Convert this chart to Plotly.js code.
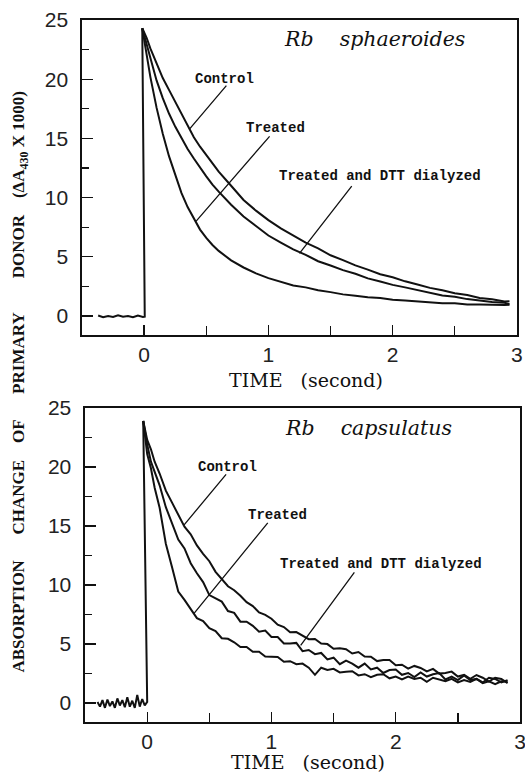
<!DOCTYPE html>
<html>
<head>
<meta charset="utf-8">
<script src="https://cdn.plot.ly/plotly-3.0.1.min.js"></script>
<style>html,body{margin:0;padding:0;background:#fff;}#chart{width:525px;height:774px;}</style>
</head>
<body>
<div id="chart"></div>
<script>
// ---------- Top panel: Rb sphaeroides ----------
const sphBaseT = [-0.37,-0.33,-0.29,-0.25,-0.21,-0.17,-0.13,-0.09,-0.05,-0.01,0.005];
const sphBaseV = [0.05,-0.1,0.0,-0.08,0.06,-0.05,0.0,-0.1,0.05,-0.08,-0.05];
const sphPeakT = -0.015;
const sphPeakV = 24.3;
const sphT = [0.02,0.05,0.1,0.15,0.2,0.25,0.3,0.35,0.4,0.45,0.5,0.55,0.6,0.7,0.8,0.9,1.0,1.1,1.2,1.3,1.4,1.5,1.6,1.7,1.8,1.9,2.0,2.1,2.2,2.3,2.4,2.5,2.6,2.7,2.8,2.9,2.94];
const sphControl = [23.5,22.6,21.3,20.1,19.1,18.1,17.0,16.0,15.1,14.3,13.6,12.9,12.2,11.0,9.8,8.9,8.1,7.4,6.8,6.2,5.72,5.13,4.72,4.28,3.92,3.53,3.27,2.93,2.67,2.38,2.17,1.93,1.77,1.52,1.42,1.22,1.25];
const sphDTT = [23.0,21.8,19.9,18.4,17.1,16.0,15.0,14.1,13.3,12.5,11.8,11.1,10.5,9.4,8.4,7.6,6.8,6.2,5.63,5.17,4.63,4.27,3.88,3.57,3.18,2.92,2.63,2.42,2.18,1.97,1.73,1.62,1.43,1.32,1.18,1.12,1.0];
const sphTreated = [22.0,20.2,17.6,15.4,13.5,11.9,10.4,9.2,8.2,7.3,6.6,6.0,5.5,4.7,4.1,3.6,3.2,2.92,2.58,2.42,2.18,2.02,1.83,1.72,1.58,1.52,1.38,1.32,1.23,1.17,1.08,1.07,0.98,0.97,0.92,0.93,0.95];

// ---------- Bottom panel: Rb capsulatus ----------
const capBaseT = [-0.40,-0.38,-0.36,-0.34,-0.32,-0.30,-0.28,-0.26,-0.24,-0.22,-0.20,-0.18,-0.16,-0.14,-0.12,-0.10,-0.08,-0.06,-0.04,-0.02,0.0];
const capBaseV = [0.1,-0.3,0.25,-0.4,0.3,-0.25,0.15,-0.4,0.4,-0.2,0.25,-0.35,0.5,-0.3,0.2,-0.4,0.7,-0.3,0.35,-0.2,0.1];
const capPeakT = -0.032;
const capPeakV = 23.9;
const capT = [0.0,0.03,0.06,0.1,0.15,0.2,0.25,0.3,0.35,0.4,0.45,0.5,0.55,0.6,0.65,0.7,0.75,0.8,0.85,0.9,0.95,1.0,1.05,1.1,1.15,1.2,1.25,1.3,1.35,1.4,1.45,1.5,1.55,1.6,1.65,1.7,1.75,1.8,1.85,1.9,1.95,2.0,2.05,2.1,2.15,2.2,2.25,2.3,2.35,2.4,2.45,2.5,2.55,2.6,2.65,2.7,2.75,2.8,2.85,2.9];
const capControl = [22.3,21.5,20.45,19.45,18.0,16.98,15.9,14.94,14.3,13.36,12.65,12.02,11.12,10.53,9.9,9.56,9.1,8.55,8.22,7.68,7.48,7.15,6.64,6.44,6.0,6.02,5.7,5.42,5.44,5.05,5.0,4.6,4.65,4.57,4.2,4.33,3.95,3.93,3.56,3.65,3.65,3.2,3.25,2.92,3.15,2.98,2.68,2.9,2.5,2.55,2.67,2.25,2.4,2.05,2.38,2.15,1.83,2.15,2.05,1.7];
const capDTT = [21.9,20.45,19.65,18.45,16.6,15.25,13.85,13.1,11.85,11.0,10.25,9.15,8.85,8.6,7.8,7.65,6.9,6.9,6.55,6.05,6.15,5.6,5.6,5.05,5.05,5.1,4.4,4.5,4.15,4.25,3.7,3.85,3.3,3.6,3.35,3.0,3.35,2.85,3.0,2.55,2.8,2.85,2.4,2.55,2.2,2.6,2.25,2.45,2.55,2.0,2.25,1.95,2.35,1.95,2.05,1.75,2.15,2.05,1.75,1.95];
const capTreated = [21.1,19.9,18.25,16.55,13.5,11.5,9.45,8.75,7.95,7.2,6.95,6.35,6.1,5.5,5.45,5.15,4.75,4.75,4.35,4.35,3.95,3.95,3.9,3.5,3.55,3.3,3.35,3.0,2.4,3.0,2.8,2.9,2.6,2.65,2.7,2.35,2.45,2.2,2.4,2.45,2.1,2.25,2.0,2.25,2.05,2.15,1.8,2.15,2.0,1.85,2.05,1.75,1.95,1.8,2.05,1.7,1.85,1.6,1.85,1.8];

const seriesNames = ['Control','Treated','Treated and DTT dialyzed'];
const xTickVals = [0,1,2,3];
const yTickVals = [0,5,10,15,20,25];

const lineStyle = {color:'#111', width:2};
function tr(x, y, xa, ya, name){
  return {x:x, y:y, xaxis:xa, yaxis:ya, type:'scatter', mode:'lines', name:name,
          line:lineStyle, showlegend:false, hoverinfo:'skip'};
}
const data = [
  tr(sphBaseT.concat([sphPeakT]), sphBaseV.concat([sphPeakV]), 'x','y','trigger'),
  tr([sphPeakT].concat(sphT), [sphPeakV].concat(sphControl), 'x','y',seriesNames[0]),
  tr([sphPeakT].concat(sphT), [sphPeakV].concat(sphTreated), 'x','y',seriesNames[1]),
  tr([sphPeakT].concat(sphT), [sphPeakV].concat(sphDTT), 'x','y',seriesNames[2]),
  tr(capBaseT.concat([capPeakT]), capBaseV.concat([capPeakV]), 'x2','y2','trigger'),
  tr([capPeakT].concat(capT), [capPeakV].concat(capControl), 'x2','y2',seriesNames[0]),
  tr([capPeakT].concat(capT), [capPeakV].concat(capTreated), 'x2','y2',seriesNames[1]),
  tr([capPeakT].concat(capT), [capPeakV].concat(capDTT), 'x2','y2',seriesNames[2])
];

const tickFont = {family:'Liberation Sans, Arial, sans-serif', size:21, color:'#222'};
const titleFont = {family:'DejaVu Serif, serif', size:19, color:'#111'};
function xAxis(domain, anchor){
  return {domain:domain, anchor:anchor, range:[-0.5,3], tickvals:xTickVals, ticks:'inside', ticklen:10,
    tickwidth:1.3, tickcolor:'#111', showline:true, mirror:true, linecolor:'#111', linewidth:1.6,
    showgrid:false, zeroline:false, tickfont:tickFont, ticklabelstandoff:0, ticklabeloverflow:'allow',
    minor:{dtick:0.5, tick0:0, ticks:'inside', ticklen:9, tickwidth:1.3, tickcolor:'#111', showgrid:false}};
}
function yAxis(domain, anchor){
  return {domain:domain, anchor:anchor, range:[-1.6,25], tickvals:yTickVals, ticks:'inside', ticklen:11,
    tickwidth:1.3, tickcolor:'#111', showline:true, mirror:true, linecolor:'#111', linewidth:1.6,
    showgrid:false, zeroline:false, tickfont:tickFont, ticklabelstandoff:8,
    minor:{dtick:2.5, tick0:0, ticks:'inside', ticklen:7, tickwidth:1.3, tickcolor:'#111', showgrid:false}};
}

const labFont = {family:'Liberation Mono, Courier New, monospace', size:14, color:'#111'};
const spFont = {family:'DejaVu Serif, serif', size:20.5, color:'#111'};
function lab(text, x, y, xr, yr){
  return {text:'<b>'+text+'</b>', x:x, y:y, xref:xr, yref:yr, showarrow:false, font:labFont, xanchor:'center', yanchor:'middle'};
}
function lead(x, y, ax, ay, xr, yr){
  return {text:'', x:x, y:y, ax:ax, ay:ay, xref:xr, yref:yr, axref:xr, ayref:yr,
          showarrow:true, arrowhead:0, arrowwidth:1.3, arrowcolor:'#111', standoff:0, startstandoff:0};
}
function xTitle(x, y){
  return {text:'TIME&nbsp;&nbsp;&nbsp;(second)', x:x, y:y, xref:'paper', yref:'paper', showarrow:false,
          xanchor:'center', yanchor:'middle', font:titleFont};
}
const annotations = [
  {text:'<i>Rb</i>&nbsp;&nbsp;&nbsp;&nbsp;<i>sphaeroides</i>', x:1.85, y:23.4, xref:'x', yref:'y', showarrow:false, font:spFont},
  lab(seriesNames[0], 0.65, 20.0, 'x','y'),
  lab(seriesNames[1], 1.06, 15.9, 'x','y'),
  lab(seriesNames[2], 1.9, 11.8, 'x','y'),
  lead(0.363, 15.76, 0.672, 19.58, 'x','y'),
  lead(0.417, 8.0, 1.02, 15.3, 'x','y'),
  lead(1.25, 5.3, 1.68, 11.1, 'x','y'),
  {text:'<i>Rb</i>&nbsp;&nbsp;&nbsp;&nbsp;<i>capsulatus</i>', x:1.78, y:23.3, xref:'x2', yref:'y2', showarrow:false, font:spFont},
  lab(seriesNames[0], 0.647, 20.0, 'x2','y2'),
  lab(seriesNames[1], 1.05, 15.9, 'x2','y2'),
  lab(seriesNames[2], 1.88, 11.8, 'x2','y2'),
  lead(0.297, 15.1, 0.645, 19.5, 'x2','y2'),
  lead(0.377, 7.6, 0.98, 15.4, 'x2','y2'),
  lead(1.235, 4.9, 1.676, 11.2, 'x2','y2'),
  xTitle(0.511, 0.487),
  xTitle(0.517, -0.0575),
  {text:'<b>ABSORPTION&nbsp;&nbsp;&nbsp;&nbsp;&nbsp;&nbsp;CHANGE&nbsp;&nbsp;&nbsp;&nbsp;OF&nbsp;&nbsp;&nbsp;&nbsp;&nbsp;&nbsp;PRIMARY&nbsp;&nbsp;&nbsp;&nbsp;&nbsp;&nbsp;&nbsp;&nbsp;DONOR&nbsp;&nbsp;&nbsp;&nbsp;(ΔA<sub>430</sub> X 1000)</b>',
   x:-0.1416, y:0.485, xref:'paper', yref:'paper', showarrow:false, textangle:-90,
   xanchor:'center', yanchor:'middle',
   font:{family:'Liberation Serif, Times New Roman, serif', size:17, color:'#111'}}
];

const layout = {
  width:525, height:774,
  margin:{l:82, r:5, t:20, b:52},
  paper_bgcolor:'#fff', plot_bgcolor:'#fff',
  showlegend:false,
  xaxis: xAxis([0, 0.993], 'y'),
  yaxis: yAxis([0.5513, 1], 'x'),
  xaxis2: xAxis([0.007, 1], 'y2'),
  yaxis2: yAxis([0, 0.4473], 'x2'),
  annotations: annotations
};
Plotly.newPlot('chart', data, layout, {staticPlot:true, displayModeBar:false});
</script>
</body>
</html>
